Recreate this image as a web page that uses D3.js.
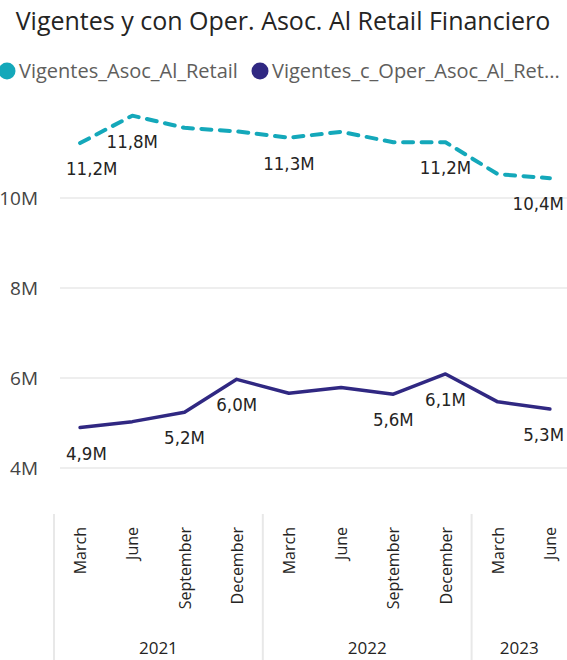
<!DOCTYPE html>
<html>
<head>
<meta charset="utf-8">
<script src="https://cdn.jsdelivr.net/npm/d3@7"></script>
<style>
  body { margin: 0; background: #fff; }
  svg { display: block; }
</style>
</head>
<body>
<div id="chart"></div>
<script>
// data
var periods = ["2021-03", "2021-06", "2021-09", "2021-12", "2022-03", "2022-06", "2022-09", "2022-12", "2023-03", "2023-06"];
var monthLabels = ["March", "June", "September", "December", "March", "June", "September", "December", "March", "June"];
var yearLabels = ["2021", "2022", "2023"];
var yearSpans = [4, 4, 2];
var seriesNames = ["Vigentes_Asoc_Al_Retail", "Vigentes_c_Oper_Asoc_Al_Retail_Financiero"];
var vigentes = [11.22, 11.83, 11.56, 11.48, 11.34, 11.47, 11.24, 11.24, 10.53, 10.44];
var vigentesOper = [4.90, 5.03, 5.24, 5.97, 5.66, 5.79, 5.64, 6.09, 5.47, 5.31];
var vigentesLabelIdx = [0, 1, 4, 7, 9];
var operLabelIdx = [0, 2, 3, 6, 7, 9];
var yTicks = [4, 6, 8, 10];

var W = 567, H = 660;
var colors = ["#14A8BA", "#302882"];
var uiFont = "'Segoe UI', 'Open Sans', sans-serif";
var numFont = "'DejaVu Sans Condensed', 'DejaVu Sans', sans-serif";

var svg = d3.select("#chart").append("svg")
  .attr("width", W)
  .attr("height", H);

// title
svg.append("text")
  .attr("x", 283)
  .attr("y", 30)
  .attr("text-anchor", "middle")
  .style("font-family", uiFont)
  .style("font-size", "25px")
  .attr("fill", "#252423")
  .text("Vigentes y con Oper. Asoc. Al Retail Financiero");

// legend
var legendX = [7, 260];
seriesNames.forEach(function(name, i) {
  svg.append("circle")
    .attr("cx", legendX[i])
    .attr("cy", 71)
    .attr("r", 8.5)
    .attr("fill", colors[i]);
  var t = svg.append("text")
    .attr("x", legendX[i] + 12)
    .attr("y", 78)
    .style("font-family", uiFont)
    .style("font-size", "20px")
    .attr("fill", "#605E5C")
    .text(name);
  // truncate like the original when it runs past the edge
  if (i == 1) {
    var full = name;
    while (t.node().getComputedTextLength() + legendX[i] + 12 > 562 && full.length > 1) {
      full = full.slice(0, -1);
      t.text(full + "...");
    }
  }
});

// scales
var x = d3.scaleBand()
  .domain(periods)
  .range([54, 576])
  .padding(0);

var y = d3.scaleLinear()
  .domain([4, 10])
  .range([468, 198]);

var cx = function(i) { return x(periods[i]) + x.bandwidth() / 2; };

// gridlines + y labels
var grid = svg.append("g");
grid.selectAll("line")
  .data(yTicks)
  .enter()
  .append("line")
  .attr("x1", 60)
  .attr("x2", W)
  .attr("y1", function(d) { return y(d); })
  .attr("y2", function(d) { return y(d); })
  .attr("stroke", "#E8E8E8")
  .attr("stroke-width", 1.5);

grid.selectAll("text")
  .data(yTicks)
  .enter()
  .append("text")
  .attr("x", 38)
  .attr("y", function(d) { return y(d); })
  .attr("dy", "0.35em")
  .attr("text-anchor", "end")
  .style("font-family", uiFont)
  .style("font-size", "19px")
  .attr("fill", "#444")
  .text(function(d) { return d + "M"; });

// lines
var line = function(vals) {
  return d3.line()
    .x(function(d, i) { return cx(i); })
    .y(function(d) { return y(d); })(vals);
};

svg.append("path")
  .attr("d", line(vigentesOper))
  .attr("fill", "none")
  .attr("stroke", colors[1])
  .attr("stroke-width", 3.5)
  .attr("stroke-linejoin", "round")
  .attr("stroke-linecap", "round");

svg.append("path")
  .attr("d", line(vigentes))
  .attr("fill", "none")
  .attr("stroke", colors[0])
  .attr("stroke-width", 4)
  .attr("stroke-dasharray", "10,8.5")
  .attr("stroke-linecap", "round")
  .attr("stroke-linejoin", "round");

// data labels under the points, kept inside the plot
function dataLabels(vals, idx) {
  idx.forEach(function(i) {
    var t = svg.append("text")
      .attr("x", cx(i))
      .attr("y", y(vals[i]) + 32)
      .attr("text-anchor", "middle")
      .style("font-family", numFont)
      .style("font-size", "18.5px")
      .attr("fill", "#252423")
      .text(vals[i].toFixed(1).replace(".", ",") + "M");
    var w = t.node().getComputedTextLength();
    var left = cx(i) - w / 2;
    if (left < 66) t.attr("x", 66 + w / 2);
    if (left + w > 564) t.attr("x", 564 - w / 2);
  });
}
dataLabels(vigentes, vigentesLabelIdx);
dataLabels(vigentesOper, operLabelIdx);

// x axis: months
svg.append("g").selectAll("text")
  .data(monthLabels)
  .enter()
  .append("text")
  .attr("transform", function(d, i) { return "translate(" + cx(i) + ",527) rotate(-90)"; })
  .attr("text-anchor", "end")
  .attr("dominant-baseline", "central")
  .style("font-family", uiFont)
  .style("font-size", "16px")
  .attr("fill", "#252423")
  .text(function(d) { return d; });

// x axis: years with separators
var start = 0;
yearLabels.forEach(function(yr, k) {
  var x0 = x(periods[start]);
  var x1 = Math.min(x(periods[start + yearSpans[k] - 1]) + x.bandwidth(), W);
  svg.append("line")
    .attr("x1", x0).attr("x2", x0)
    .attr("y1", 514).attr("y2", H)
    .attr("stroke", "#E8E8E8")
    .attr("stroke-width", 2);
  svg.append("text")
    .attr("x", (x0 + x1) / 2)
    .attr("y", 654)
    .attr("text-anchor", "middle")
    .style("font-family", uiFont)
    .style("font-size", "17px")
    .attr("fill", "#252423")
    .text(yr);
  start += yearSpans[k];
});
</script>
</body>
</html>
